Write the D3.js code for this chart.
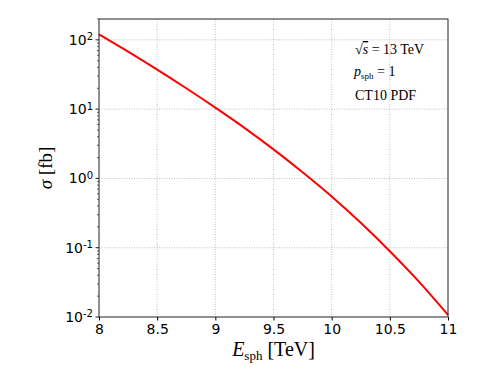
<!DOCTYPE html>
<html>
<head>
<meta charset="utf-8">
<script src="https://cdn.jsdelivr.net/npm/d3@7"></script>
<style>
  body { margin: 0; background: #fff; }
  svg { display: block; }
</style>
</head>
<body>
<svg id="chart" width="498" height="374"></svg>
<script>
"use strict";

// sphaleron energy in TeV and cross section in fb
const energies = [8, 8.25, 8.5, 8.75, 9, 9.25, 9.5, 9.75, 10, 10.25, 10.5, 10.75, 11];
const sigmas = [120, 67.6, 37.2, 20.0, 10.5, 5.37, 2.63, 1.23, 0.55, 0.229, 0.089, 0.0324, 0.0107];

const xTicks = [8, 8.5, 9, 9.5, 10, 10.5, 11];
const yExponents = [-2, -1, 0, 1, 2];
const pdfLabel = "CT10 PDF";

let width = 498;
let height = 374;
let margin = {left: 99, right: 50, top: 19, bottom: 57};

let svg = d3.select("#chart");
let plotW = width - margin.left - margin.right;
let plotH = height - margin.top - margin.bottom;

let x = d3.scaleLinear().domain([8, 11]).range([margin.left, margin.left + plotW]);
let y = d3.scaleLog().domain([0.01, 200]).range([margin.top + plotH, margin.top]);

// Grid
let grid = svg.append("g")
  .attr("stroke", "#b0b0b0")
  .attr("stroke-width", 0.8)
  .attr("stroke-dasharray", "1,1.5");
grid.selectAll("line.gx")
  .data(xTicks.slice(1, -1))
  .enter().append("line")
  .attr("x1", d => x(d)).attr("x2", d => x(d))
  .attr("y1", margin.top).attr("y2", margin.top + plotH);
grid.selectAll("line.gy")
  .data(yExponents.slice(1))
  .enter().append("line")
  .attr("y1", d => y(Math.pow(10, d))).attr("y2", d => y(Math.pow(10, d)))
  .attr("x1", margin.left).attr("x2", margin.left + plotW);

// Curve
let line = d3.line()
  .x((d, i) => x(energies[i]))
  .y(d => y(d))
  .curve(d3.curveMonotoneX);

svg.append("path")
  .datum(sigmas)
  .attr("fill", "none")
  .attr("stroke", "#ff0000")
  .attr("stroke-width", 2)
  .attr("d", line);

// Frame
svg.append("rect")
  .attr("x", margin.left).attr("y", margin.top)
  .attr("width", plotW).attr("height", plotH)
  .attr("fill", "none")
  .attr("stroke", "#222")
  .attr("stroke-width", 1);

// X axis
let xAxis = svg.append("g")
  .attr("transform", `translate(0,${margin.top + plotH})`)
  .call(d3.axisBottom(x).tickValues(xTicks).tickSize(3.5).tickPadding(4).tickFormat(d3.format("")));
xAxis.select(".domain").remove();
xAxis.selectAll("text")
  .attr("font-family", "DejaVu Sans")
  .attr("font-size", 14)
  .attr("fill", "#000");

// Y axis major ticks
let yAxis = svg.append("g")
  .attr("transform", `translate(${margin.left},0)`);
let majors = yAxis.selectAll("g.major")
  .data(yExponents)
  .enter().append("g")
  .attr("transform", d => `translate(0,${y(Math.pow(10, d))})`);
majors.append("line").attr("x1", -3.5).attr("x2", 0).attr("stroke", "#222");
let lbl = majors.append("text")
  .attr("x", -6)
  .attr("dy", "0.35em")
  .attr("text-anchor", "end")
  .attr("font-family", "DejaVu Sans")
  .attr("font-size", 14)
  .attr("fill", "#000");
lbl.append("tspan").text("10");
lbl.append("tspan")
  .attr("dy", "-0.45em")
  .attr("font-size", 10)
  .text(d => d < 0 ? "-" + (-d) : d);

// Y axis minor ticks
let minors = [];
y.ticks().forEach(v => {
  let e = Math.floor(Math.log10(v) + 1e-9);
  if (Math.abs(v - Math.pow(10, e)) > 1e-12) minors.push(v);
});
yAxis.selectAll("line.minor")
  .data(minors)
  .enter().append("line")
  .attr("x1", -2).attr("x2", 0)
  .attr("y1", d => y(d)).attr("y2", d => y(d))
  .attr("stroke", "#222")
  .attr("stroke-width", 0.7);

// Axis titles
let ylab = svg.append("text")
  .attr("transform", `translate(52,${margin.top + plotH / 2}) rotate(-90)`)
  .attr("text-anchor", "middle")
  .attr("font-family", "Liberation Serif")
  .attr("font-size", 19);
ylab.append("tspan").attr("font-style", "italic").text("σ");
ylab.append("tspan").text(" [fb]");

let xlab = svg.append("text")
  .attr("x", margin.left + plotW / 2)
  .attr("y", 356)
  .attr("text-anchor", "middle")
  .attr("font-family", "Liberation Serif")
  .attr("font-size", 20);
xlab.append("tspan").attr("font-style", "italic").text("E");
xlab.append("tspan").attr("font-size", 13).attr("dy", 4).text("sph");
xlab.append("tspan").attr("dy", -4).text(" [TeV]");

// Annotation
let note = svg.append("g")
  .attr("font-family", "Liberation Serif")
  .attr("font-size", 14)
  .attr("fill", "#000");
let t1 = note.append("text").attr("x", 355).attr("y", 54);
t1.append("tspan").text("√");
t1.append("tspan").attr("font-style", "italic").attr("text-decoration", "overline").text("s");
t1.append("tspan").text(" = 13 TeV");
let t2 = note.append("text").attr("x", 354).attr("y", 76);
t2.append("tspan").attr("font-style", "italic").text("p");
t2.append("tspan").attr("font-size", 9).attr("dy", 3).text("sph");
t2.append("tspan").attr("dy", -3).text(" = 1");
note.append("text").attr("x", 355).attr("y", 100).text(pdfLabel);
</script>
</body>
</html>
